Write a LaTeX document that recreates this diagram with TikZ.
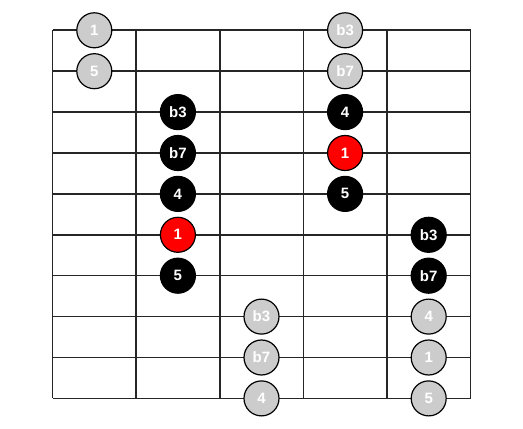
\documentclass[tikz,border=0pt]{standalone}
\usepackage{fontspec}
\setmainfont{Liberation Sans}
\begin{document}
\begin{tikzpicture}[x=1pt,y=1pt,
  note/.style={circle,draw=black,line width=1.2pt,minimum size=35pt,inner sep=0pt,font=\bfseries\fontsize{15}{15}\selectfont,text=white},
  ghost/.style={note,fill=black!20},
  tone/.style={note,fill=black},
  root/.style={note,fill=red},
  gridline/.style={draw=black!85,line width=1.6pt}]
\useasboundingbox (0,0) rectangle (523,429);
\def\xa{52.5}\def\dx{83.6}\def\ya{398.7}\def\dy{40.9}
% grid
\foreach \i in {0,...,5} \draw[gridline] ({\xa+\i*\dx},{\ya}) -- ({\xa+\i*\dx},{\ya-9*\dy});
\foreach \j in {0,...,9} \draw[gridline] ({\xa},{\ya-\j*\dy}) -- ({\xa+5*\dx},{\ya-\j*\dy});
% notes
\foreach \c/\r/\s/\t/\n in {
  0/0/ghost/1/a, 3/0/ghost/b3/b,
  0/1/ghost/5/c, 3/1/ghost/b7/d,
  1/2/tone/b3/e, 3/2/tone/4/f,
  1/3/tone/b7/g, 3/3/root/1/h,
  1/4/tone/4/i, 3/4/tone/5/j,
  1/5/root/1/k, 4/5/tone/b3/l,
  1/6/tone/5/m, 4/6/tone/b7/n,
  2/7/ghost/b3/o, 4/7/ghost/4/p,
  2/8/ghost/b7/q, 4/8/ghost/1/r,
  2/9/ghost/4/s, 4/9/ghost/5/t}
  \node[\s] (n\n) at ({\xa+(\c+0.5)*\dx},{\ya-\r*\dy}) {\t};
\end{tikzpicture}
\end{document}
